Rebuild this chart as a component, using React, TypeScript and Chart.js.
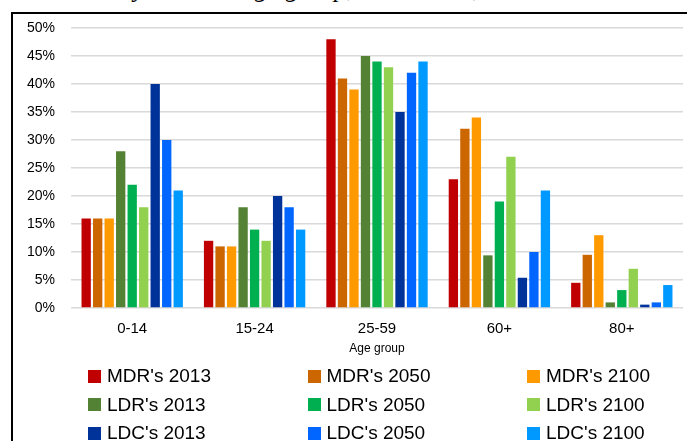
import React, { useEffect, useRef } from "react";
import { Chart, registerables } from "chart.js";

Chart.register(...registerables);

const categories = ["0-14", "15-24", "25-59", "60+", "80+"];
const seriesLabels = [
  "MDR's 2013", "MDR's 2050", "MDR's 2100",
  "LDR's 2013", "LDR's 2050", "LDR's 2100",
  "LDC's 2013", "LDC's 2050", "LDC's 2100",
];
const mdr2013 = [16, 12, 48, 23, 4.5];
const mdr2050 = [16, 11, 41, 32, 9.5];
const mdr2100 = [16, 11, 39, 34, 13];
const ldr2013 = [28, 18, 45, 9.4, 1];
const ldr2050 = [22, 14, 44, 19, 3.2];
const ldr2100 = [18, 12, 43, 27, 7];
const ldc2013 = [40, 20, 35, 5.4, 0.6];
const ldc2050 = [30, 18, 42, 10, 1];
const ldc2100 = [21, 14, 44, 21, 4.1];
const seriesValues = [mdr2013, mdr2050, mdr2100, ldr2013, ldr2050, ldr2100, ldc2013, ldc2050, ldc2100];
const seriesColors = [
  "#C00000", "#CC6600", "#FF9900",
  "#548235", "#00B050", "#92D050",
  "#003399", "#0066FF", "#0099FF",
];
const yTicks = [0, 5, 10, 15, 20, 25, 30, 35, 40, 45, 50];

const SANS = "'Liberation Sans', Arial, sans-serif";

export default function App() {
  const canvasRef = useRef<HTMLCanvasElement | null>(null);

  useEffect(() => {
    if (!canvasRef.current) return;
    const chart = new Chart(canvasRef.current, {
      type: "bar",
      data: {
        labels: categories,
        datasets: seriesLabels.map((label, i) => ({
          label,
          data: seriesValues[i],
          backgroundColor: seriesColors[i],
          borderWidth: 0,
          categoryPercentage: 0.846,
          barPercentage: 0.81,
        })),
      },
      options: {
        animation: false,
        responsive: false,
        maintainAspectRatio: false,
        layout: { padding: { left: 0, right: 4, top: 28, bottom: 84 } },
        plugins: {
          legend: { display: false },
          tooltip: { enabled: false },
          title: { display: false },
        },
        scales: {
          x: {
            grid: { display: false, drawTicks: false },
            border: { display: false },
            ticks: {
              color: "#000",
              font: { family: SANS, size: 15 },
              padding: 12,
              maxRotation: 0,
            },
            title: {
              display: true,
              text: "Age group",
              color: "#000",
              font: { family: SANS, size: 12 },
              padding: { top: 0, bottom: 1 },
            },
            afterFit: (scale: any) => {
              scale.height = 49;
            },
          },
          y: {
            min: 0,
            max: 50,
            afterBuildTicks: (scale: any) => {
              scale.ticks = yTicks.map((v) => ({ value: v }));
            },
            grid: { color: "#d9d9d9", lineWidth: 1.5, drawTicks: false },
            border: { display: false },
            ticks: {
              color: "#000",
              font: { family: SANS, size: 14 },
              padding: 16,
              callback: (v: any) => v + "%",
            },
            afterFit: (scale: any) => {
              scale.width = 71;
            },
          },
        },
      },
    });
    return () => chart.destroy();
  }, []);

  return (
    <div
      style={{
        position: "fixed",
        left: 0,
        top: 0,
        width: 687,
        height: 441,
        overflow: "hidden",
        background: "#fff",
      }}
    >
      <div
        style={{
          position: "absolute",
          left: -13,
          top: -24,
          whiteSpace: "nowrap",
          fontFamily: "'Liberation Serif', 'Times New Roman', serif",
          fontStyle: "italic",
          fontSize: 26,
          lineHeight: "26px",
          color: "#000",
        }}
      >
        Distribution by detailed age group, 2013-2100, world total
      </div>
      <div
        style={{
          position: "absolute",
          left: 11,
          top: 12,
          width: 700,
          height: 460,
          borderTop: "2px solid #000",
          borderLeft: "2px solid #000",
        }}
      />
      <canvas
        ref={canvasRef}
        width={687}
        height={441}
        style={{ position: "absolute", left: 0, top: 0, width: 687, height: 441 }}
      />
      <div
        style={{
          position: "absolute",
          left: 88,
          top: 362,
          display: "grid",
          gridTemplateColumns: "219.5px 219.5px 219.5px",
          gridAutoRows: "28.5px",
          fontFamily: SANS,
          fontSize: 19,
          color: "#000",
        }}
      >
        {seriesLabels.map((label, i) => (
          <div key={label} style={{ display: "flex", alignItems: "center", whiteSpace: "nowrap" }}>
            <span
              style={{
                display: "inline-block",
                width: 13,
                height: 13,
                background: seriesColors[i],
                marginRight: 6,
              }}
            />
            <span>{label}</span>
          </div>
        ))}
      </div>
    </div>
  );
}
